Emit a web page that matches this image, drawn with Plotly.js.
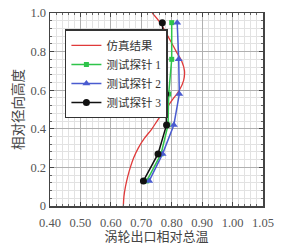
<!DOCTYPE html>
<html><head><meta charset="utf-8">
<script src="https://cdn.plot.ly/plotly-3.0.1.min.js"></script>
<style>body{margin:0;padding:0;background:#fff}#chart{width:294px;height:250px}</style>
</head><body><div id="chart"></div>
<script>
const simY = [0, 0.05, 0.1, 0.15, 0.2, 0.25, 0.3, 0.35, 0.4, 0.45, 0.5, 0.55, 0.6, 0.65, 0.7, 0.75, 0.8, 0.85, 0.9, 0.95, 1.0];
const simX = [0.641, 0.643, 0.648, 0.655, 0.664, 0.675, 0.69, 0.71, 0.735, 0.756, 0.78, 0.802, 0.825, 0.839, 0.842, 0.833, 0.815, 0.798, 0.78, 0.762, 0.736];
const probeY = [0.13, 0.27, 0.42, 0.58, 0.76, 0.95];
const probe1 = [0.718, 0.765, 0.788, 0.79, 0.80, 0.80];
const probe2 = [0.726, 0.77, 0.807, 0.825, 0.823, 0.818];
const probe3 = [0.707, 0.755, 0.783, 0.78, 0.777, 0.769];
const names = ['仿真结果', '测试探针 1', '测试探针 2', '测试探针 3'];
const xTickVals = [0.4, 0.5, 0.6, 0.7, 0.8, 0.9, 1.0, 1.1];
const xTickText = ['0.40', '0.50', '0.60', '0.70', '0.80', '0.90', '1.00', '1.05'];
const yTickVals = [0, 0.2, 0.4, 0.6, 0.8, 1.0];
const yTickText = ['0', '0.2', '0.4', '0.6', '0.8', '1.0'];

const FONT = 'Liberation Serif, Noto Sans CJK SC, serif';
const traces = [
  {x: simX, y: simY, name: names[0], mode: 'lines', line: {color: '#e03a3a', width: 1.3, shape: 'spline'}},
  {x: probe1, y: probeY, name: names[1], mode: 'lines+markers', line: {color: '#2ec44a', width: 1.5}, marker: {symbol: 'square', size: 5, color: '#2ec44a'}},
  {x: probe2, y: probeY, name: names[2], mode: 'lines+markers', line: {color: '#4a5bd0', width: 1.5}, marker: {symbol: 'triangle-up', size: 7, color: '#4a5bd0'}},
  {x: probe3, y: probeY, name: names[3], mode: 'lines+markers', line: {color: '#111', width: 1.5}, marker: {symbol: 'circle', size: 7, color: '#111'}}
];
const axisCommon = {
  showline: true, linecolor: '#444', linewidth: 1.5, mirror: 'allticks',
  ticks: 'inside', ticklen: 4, tickcolor: '#444', tickwidth: 1,
  showgrid: true, gridcolor: '#b0b0b0', gridwidth: 1, zeroline: false,
  tickfont: {family: FONT, size: 12.5, color: '#555'}
};
const layout = {
  width: 294, height: 250,
  margin: {l: 50, r: 31, t: 13, b: 44},
  paper_bgcolor: '#fff', plot_bgcolor: '#fff',
  font: {family: FONT, color: '#444'},
  showlegend: true,
  legend: {x: 0.07, y: 0.915, xanchor: 'left', yanchor: 'top', bgcolor: '#fff', bordercolor: '#333', borderwidth: 1.5,
           font: {family: FONT, size: 11.5, color: '#333'}, tracegroupgap: 0, itemwidth: 30},
  xaxis: Object.assign({}, axisCommon, {
    range: [0.4, 1.1], tickmode: 'array', tickvals: xTickVals, ticktext: xTickText, ticklabelstandoff: 4,
    minor: {dtick: 0.02, showgrid: true, gridcolor: '#e2e2e2', gridwidth: 1, ticks: 'inside', ticklen: 2, tickcolor: '#666'},
    title: {text: '涡轮出口相对总温', font: {family: FONT, size: 13, color: '#444'}, standoff: 2}
  }),
  yaxis: Object.assign({}, axisCommon, {
    range: [0, 1], tickmode: 'array', tickvals: yTickVals, ticktext: yTickText,
    minor: {dtick: 0.04, showgrid: true, gridcolor: '#e2e2e2', gridwidth: 1, ticks: 'inside', ticklen: 2, tickcolor: '#666'},
    title: {text: '相对径向高度', font: {family: FONT, size: 13.5, color: '#444'}, standoff: 3}
  })
};
Plotly.newPlot('chart', traces, layout, {displayModeBar: false, staticPlot: true});
</script></body></html>
